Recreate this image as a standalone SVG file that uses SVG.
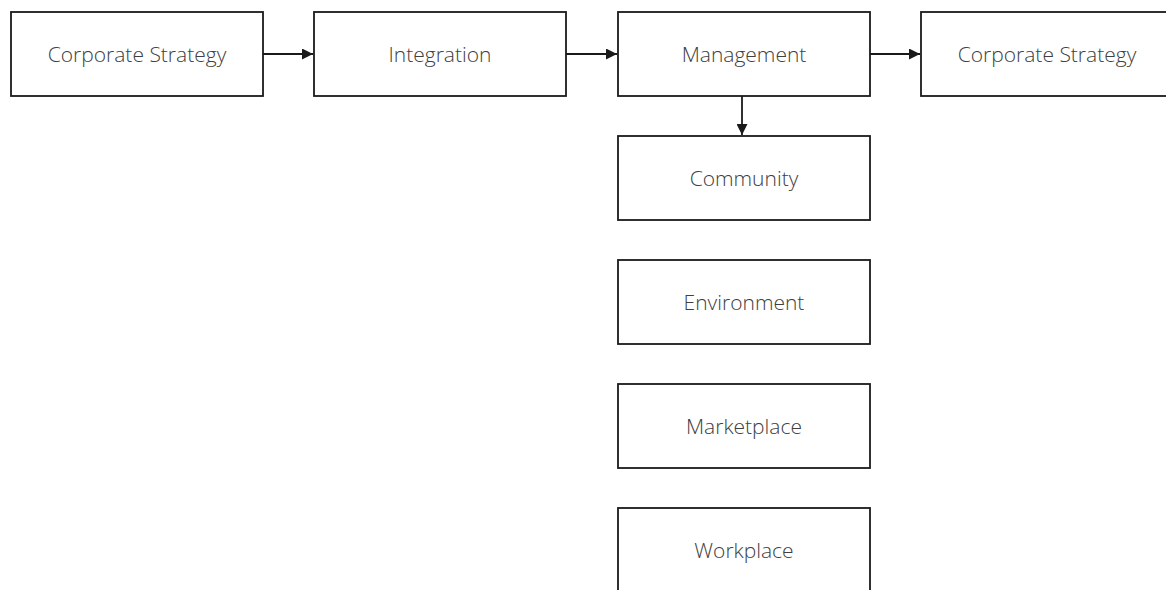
<svg xmlns="http://www.w3.org/2000/svg" width="1166" height="590" viewBox="0 0 1166 590">
<defs>
<style>
.box{fill:#fff;stroke:#1a1a1a;stroke-width:1.8}
.lbl{font-family:"Open Sans","Noto Sans",sans-serif;font-weight:300;font-size:21px;fill:#404040;text-anchor:middle;dominant-baseline:central}
.edge{stroke:#1a1a1a;stroke-width:1.8;fill:none;marker-end:url(#arr)}
</style>
<marker id="arr" markerWidth="11" markerHeight="11" refX="11" refY="5.5" orient="auto" markerUnits="userSpaceOnUse">
<path d="M0,0 L11,5.5 L0,11 Z" fill="#1a1a1a"/>
</marker>
</defs>
<rect width="1166" height="590" fill="#fff"/>
<g id="connectors">
<line class="edge" x1="263" y1="54" x2="313" y2="54"/>
<line class="edge" x1="566" y1="54" x2="617" y2="54"/>
<line class="edge" x1="870" y1="54" x2="920" y2="54"/>
<line class="edge" x1="742" y1="96" x2="742" y2="135"/>
</g>
<g id="n1"><rect class="box" x="11" y="12" width="252" height="84"/><text class="lbl" x="137" y="54">Corporate Strategy</text></g>
<g id="n2"><rect class="box" x="314" y="12" width="252" height="84"/><text class="lbl" x="440" y="54">Integration</text></g>
<g id="n3"><rect class="box" x="618" y="12" width="252" height="84"/><text class="lbl" x="744" y="54">Management</text></g>
<g id="n4"><rect class="box" x="921" y="12" width="252" height="84"/><text class="lbl" x="1047" y="54">Corporate Strategy</text></g>
<g id="n5"><rect class="box" x="618" y="136" width="252" height="84"/><text class="lbl" x="744" y="178">Community</text></g>
<g id="n6"><rect class="box" x="618" y="260" width="252" height="84"/><text class="lbl" x="744" y="302">Environment</text></g>
<g id="n7"><rect class="box" x="618" y="384" width="252" height="84"/><text class="lbl" x="744" y="426">Marketplace</text></g>
<g id="n8"><rect class="box" x="618" y="508" width="252" height="84"/><text class="lbl" x="744" y="550">Workplace</text></g>
</svg>
